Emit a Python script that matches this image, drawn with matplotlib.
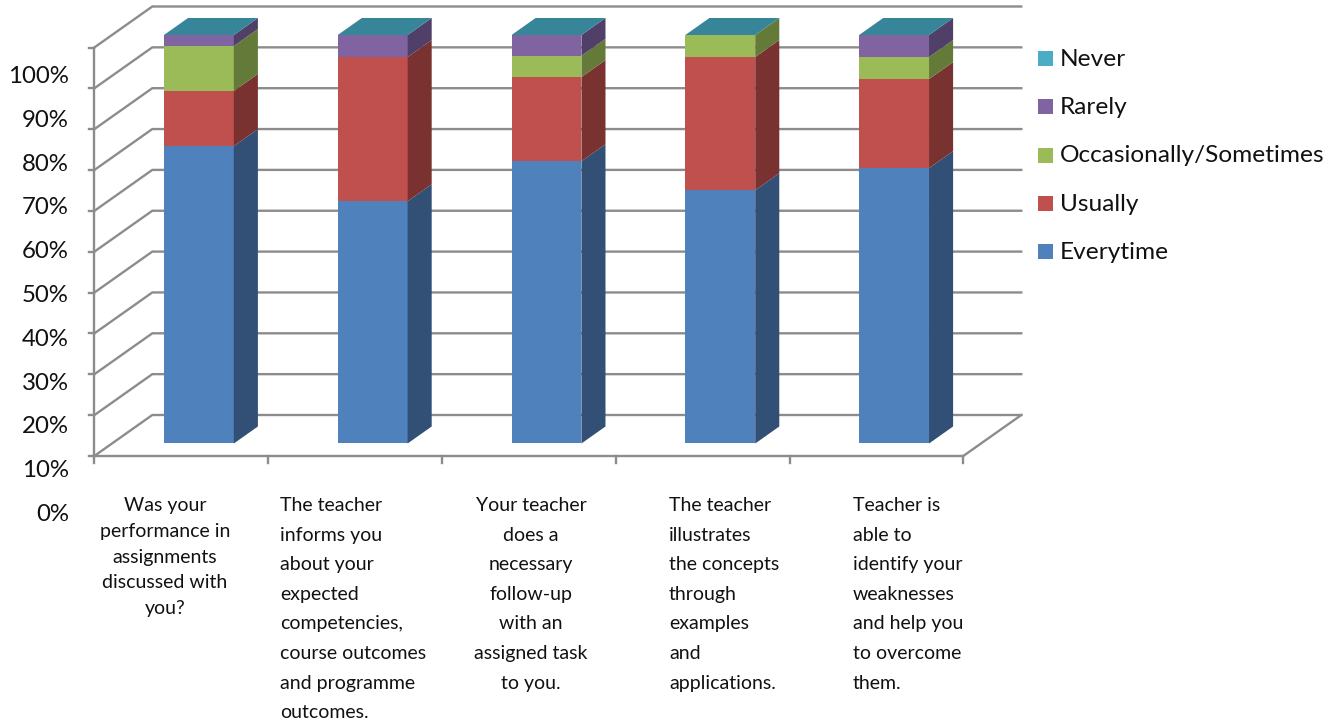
import matplotlib
matplotlib.use("Agg")
import matplotlib.pyplot as plt
from matplotlib.patches import Polygon, Rectangle

plt.rcParams['font.family'] = ['Lato', 'DejaVu Sans']

W, H = 1340, 724

questions = [
    ["Was your", "performance in", "assignments", "discussed with", "you?"],
    ["The teacher", "informs you", "about your", "expected", "competencies,", "course outcomes", "and programme", "outcomes."],
    ["Your teacher", "does a", "necessary", "follow-up", "with an", "assigned task", "to you."],
    ["The teacher", "illustrates", "the concepts", "through", "examples", "and", "applications."],
    ["Teacher is", "able to", "identify your", "weaknesses", "and help you", "to overcome", "them."],
]
label_align = ["center", "left", "center", "left", "left"]
label_anchor = [165, 280, 531, 669, 853]
label_spacing = [25.8, 29.6, 29.6, 29.6, 29.6]
series_names = ["Everytime", "Usually", "Occasionally/Sometimes", "Rarely", "Never"]
everytime = [72.8, 59.3, 69.1, 62.0, 67.4]
usually = [13.5, 35.3, 20.6, 32.6, 21.8]
occasionally = [11.0, 0.0, 5.2, 5.4, 5.4]
rarely = [2.7, 5.4, 5.1, 0.0, 5.4]
never = [0.0, 0.0, 0.0, 0.0, 0.0]
values = [everytime, usually, occasionally, rarely, never]
front_colors = ["#4f81bd", "#c0504d", "#9bbb59", "#8064a2", "#4bacc6"]
side_colors = ["#324f76", "#7a3230", "#647a38", "#503f68", "#327a8c"]
top_colors = ["#3f6797", "#9a403e", "#7c9647", "#664f82", "#378599"]
tick_labels = ["0%", "10%", "20%", "30%", "40%", "50%", "60%", "70%", "80%", "90%", "100%"]
ticks = [0, 10, 20, 30, 40, 50, 60, 70, 80, 90, 100]

X0, CAT = 94.3, 173.8
Y0, PCT = 456.0, 4.085
DX, DY = 58.0, 41.0

fig = plt.figure(figsize=(W / 100, H / 100), dpi=100)
ax = fig.add_axes([0, 0, 1, 1])
ax.set_xlim(-X0 / CAT, (W - X0) / CAT)
ax.set_ylim((Y0 - H) / PCT, Y0 / PCT)
ax.axis("off")


def proj(x, y, z):
    return x + z * DX / CAT, y + z * DY / PCT


GRID = "#8c8c8c"
LW = 1.7
n = len(questions)
for t in ticks:
    a, b, c = proj(0, t, 0), proj(0, t, 1), proj(n, t, 1)
    ax.plot([a[0], b[0], c[0]], [a[1], b[1], c[1]], color=GRID, lw=LW, zorder=1, solid_joinstyle="miter")
    ax.plot([-5.5 / CAT, 0], [t, t], color=GRID, lw=LW, zorder=1)
ax.plot([0, 0], [0, 100], color=GRID, lw=LW, zorder=1)
ax.plot([0, n], [0, 0], color=GRID, lw=LW, zorder=1)
f1, f2 = proj(n, 0, 0), proj(n, 0, 1)
ax.plot([f1[0], f2[0]], [f1[1], f2[1]], color=GRID, lw=LW, zorder=1)
for i in range(n + 1):
    ax.plot([i, i], [0, -7 / PCT], color=GRID, lw=LW, zorder=1)

Z1, Z2 = 0.305, 0.72
BW = 0.402
OFF = (1 - BW) / 2
for i in range(n):
    x1, x2 = i + OFF, i + OFF + BW
    base = 0.0
    for s, vals in enumerate(values):
        v = vals[i]
        top = base + v
        if v > 0:
            ax.add_patch(Polygon([proj(x1, base, Z1), proj(x2, base, Z1), proj(x2, top, Z1), proj(x1, top, Z1)],
                                 closed=True, fc=front_colors[s], ec="none", zorder=3))
            ax.add_patch(Polygon([proj(x2, base, Z1), proj(x2, base, Z2), proj(x2, top, Z2), proj(x2, top, Z1)],
                                 closed=True, fc=side_colors[s], ec="none", zorder=3))
        base = top
    ax.add_patch(Polygon([proj(x1, base, Z1), proj(x2, base, Z1), proj(x2, base, Z2), proj(x1, base, Z2)],
                         closed=True, fc=top_colors[4], ec="none", zorder=3))

# value axis labels sit lower and wider than the gridlines, as in the source
for t, lab in zip(ticks, tick_labels):
    ax.text(-25.3 / CAT, (Y0 - (514.5 - t * 4.38)) / PCT, lab, ha="right", va="center", fontsize=17.3, color="#111111")

for i, lines in enumerate(questions):
    for k, line in enumerate(lines):
        ypx = 505.5 + k * label_spacing[i]
        ax.text((label_anchor[i] - X0) / CAT, (Y0 - ypx) / PCT, line,
                ha=label_align[i], va="center", fontsize=14.0, color="#111111")

# legend
leg_y = [251.3, 203.2, 155.0, 106.8, 58.6]
for yp, name, col in zip(leg_y, series_names, front_colors):
    ax.add_patch(Rectangle(((1038 - X0) / CAT, (Y0 - yp - 7.5) / PCT), 15 / CAT, 15 / PCT, fc=col, ec="none", zorder=3))
    ax.text((1060 - X0) / CAT, (Y0 - yp - 1) / PCT, name, ha="left", va="center", fontsize=17.55, color="#111111")

fig.savefig("out.png", dpi=100)
